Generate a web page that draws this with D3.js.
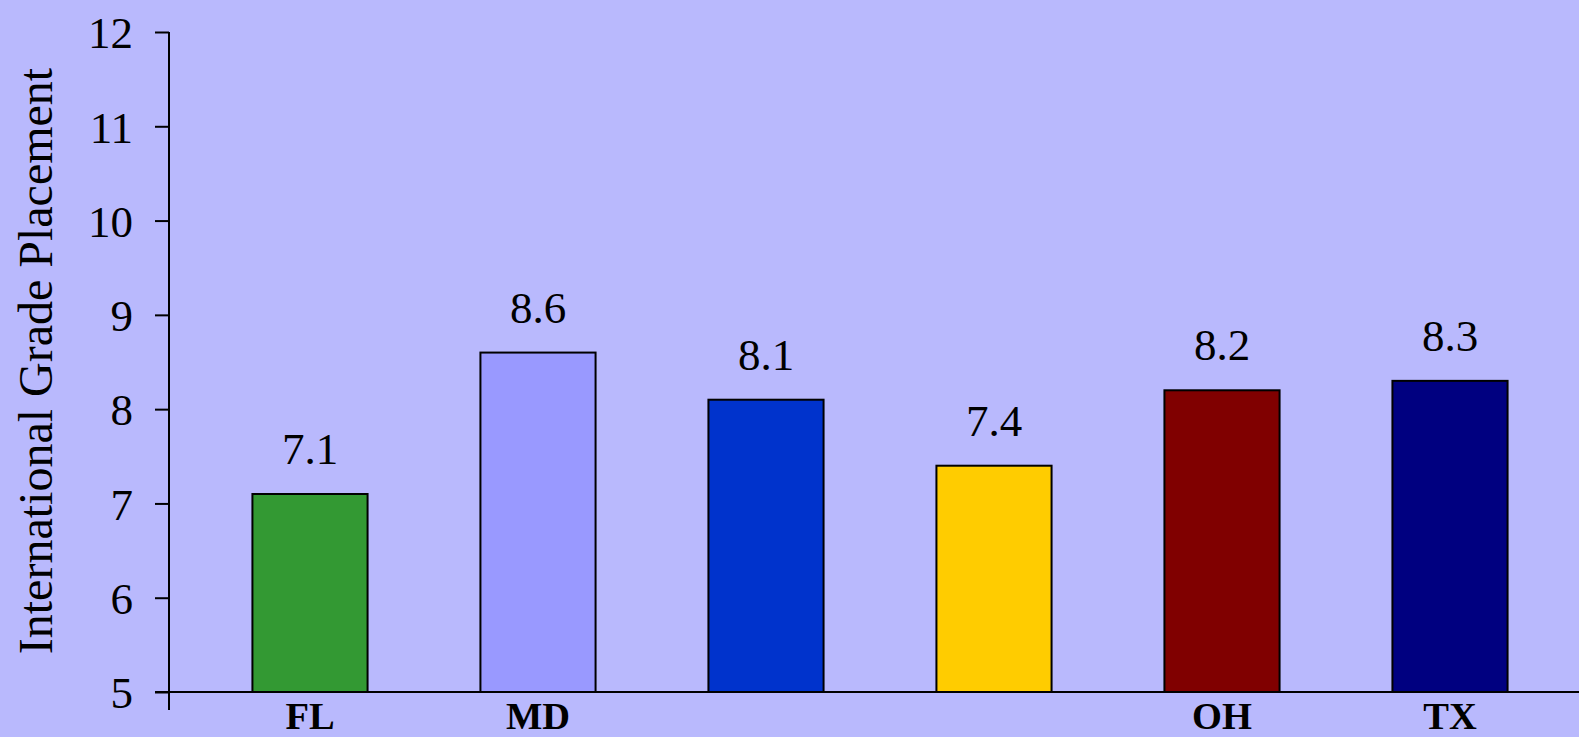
<!DOCTYPE html>
<html>
<head>
<meta charset="utf-8">
<script src="https://cdn.jsdelivr.net/npm/d3@7"></script>
<style>
  html, body { margin: 0; padding: 0; background: #b9b9fd; }
  svg { display: block; }
  text { font-family: "Liberation Serif", "Times New Roman", serif; fill: #000; }
</style>
</head>
<body>
<svg id="chart"></svg>
<script>
// chart data
const categories = ["FL", "MD", "", "", "OH", "TX"];
const values = [7.1, 8.6, 8.1, 7.4, 8.2, 8.3];
const barColors = ["#339933", "#9999ff", "#0033cc", "#ffcc00", "#800000", "#000080"];
const yTicks = [5, 6, 7, 8, 9, 10, 11, 12];

const W = 1579, H = 737;
const axisX = 169, axisY = 692;

const svg = d3.select("#chart").attr("width", W).attr("height", H);

svg.append("rect").attr("width", W).attr("height", H).attr("fill", "#b9b9fd");

const x = d3.scaleBand()
  .domain(d3.range(categories.length))
  .range([196, 1564])
  .paddingInner(0.495)
  .paddingOuter(0.2475);

const y = d3.scaleLinear()
  .domain([5, 12])
  .range([axisY, 32]);

// bars
svg.selectAll(".bar")
  .data(values)
  .enter()
  .append("rect")
  .attr("class", "bar")
  .attr("x", (d, i) => x(i))
  .attr("y", d => y(d))
  .attr("width", x.bandwidth())
  .attr("height", d => axisY - y(d))
  .attr("fill", (d, i) => barColors[i])
  .attr("stroke", "#000")
  .attr("stroke-width", 2);

// value labels
svg.selectAll(".val")
  .data(values)
  .enter()
  .append("text")
  .attr("class", "val")
  .attr("x", (d, i) => x(i) + x.bandwidth() / 2)
  .attr("y", d => y(d) - 30)
  .attr("text-anchor", "middle")
  .attr("font-size", 45)
  .text(d => d3.format(".1f")(d));

// y axis
const yAxis = d3.axisLeft(y)
  .tickValues(yTicks)
  .tickSize(14)
  .tickPadding(22)
  .tickFormat(d3.format("d"));

const gy = svg.append("g")
  .attr("transform", `translate(${axisX},0)`)
  .call(yAxis);
gy.attr("font-family", null);
gy.select(".domain").remove();
gy.selectAll(".tick line").attr("stroke", "#000").attr("stroke-width", 2);
gy.selectAll(".tick text")
  .attr("font-size", 45)
  .attr("fill", "#000")
  .attr("dy", "0.35em");

svg.append("line")
  .attr("x1", axisX).attr("x2", axisX)
  .attr("y1", y(12)).attr("y2", 710)
  .attr("stroke", "#000").attr("stroke-width", 2);

// x axis
svg.append("line")
  .attr("x1", 155).attr("x2", W)
  .attr("y1", axisY).attr("y2", axisY)
  .attr("stroke", "#000").attr("stroke-width", 2);

svg.selectAll(".cat")
  .data(categories)
  .enter()
  .append("text")
  .attr("class", "cat")
  .attr("x", (d, i) => x(i) + x.bandwidth() / 2)
  .attr("y", 729)
  .attr("text-anchor", "middle")
  .attr("font-size", 38.5)
  .attr("font-weight", "bold")
  .text(d => d);

// y title
svg.append("text")
  .attr("transform", `translate(52,${(70 + 652) / 2})rotate(-90)`)
  .attr("text-anchor", "middle")
  .attr("font-size", 48)
  .text("International Grade Placement");
</script>
</body>
</html>
